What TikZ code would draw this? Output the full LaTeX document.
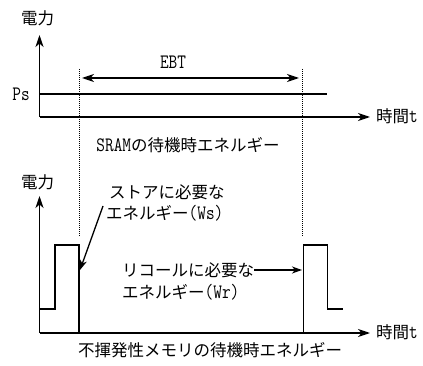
\documentclass[tikz,border=0pt]{standalone}
\usepackage{fontspec}
\setmainfont{Noto Sans CJK JP}
\setmonofont{Latin Modern Mono}[FakeStretch=0.82]
\newcommand\LatTxt[1]{{\fontsize{20.5}{23}\selectfont\ttfamily #1}}
\usetikzlibrary{arrows.meta}
\begin{document}
\begin{tikzpicture}[x=1pt,y=-1pt,
  lbl/.style={inner sep=0pt,font=\fontsize{16.5}{19}\selectfont},
  axis/.style={line width=1.4pt,-{Stealth[length=12pt,width=8pt,inset=3.5pt]}},
  dblarrow/.style={line width=1.3pt,{Stealth[length=12pt,width=8pt,inset=3.5pt]}-{Stealth[length=12pt,width=8pt,inset=3.5pt]}},
  ptr/.style={line width=1.3pt,-{Stealth[length=10pt,width=7pt,inset=3pt]}},
  sig/.style={line width=1.4pt},
  dotline/.style={line width=0.8pt,dash pattern=on 1pt off 1pt}]
\useasboundingbox (0,0) rectangle (423,366);
% top plot
\coordinate (o1) at (39.5,117);
\coordinate (y1) at (39.5,35);
\coordinate (x1) at (370,117);
\draw[axis] (o1) -- (y1);
\draw[axis] (o1) -- (x1);
\node[lbl] (p1) at (37.5,18) {電力};
\node[lbl,anchor=west] (t1) at (376,116) {時間\LatTxt{t}};
\node[lbl] (ps) at (21,94) {\LatTxt{Ps}};
\coordinate (psa) at (39.5,94);
\coordinate (psb) at (327,94);
\draw[sig] (psa) -- (psb);
\coordinate (e1) at (82,78);
\coordinate (e2) at (299,78);
\draw[dblarrow] (e1) -- (e2);
\node[lbl] (ebt) at (173,62) {\LatTxt{EBT}};
\node[lbl] (sram) at (188,145) {\LatTxt{SRAM}の待機時エネルギー};
% dotted markers
\coordinate (da1) at (79,69);
\coordinate (db1) at (79,236);
\coordinate (da2) at (302.7,69);
\coordinate (db2) at (302.7,236);
\draw[dotline] (da1) -- (db1);
\draw[dotline] (da2) -- (db2);
% bottom plot
\coordinate (o2) at (39.5,333);
\coordinate (y2) at (39.5,196);
\coordinate (x2) at (370,333);
\draw[axis] (o2) -- (y2);
\draw[axis] (o2) -- (x2);
\node[lbl] (p2) at (37.5,182) {電力};
\node[lbl,anchor=west] (t2) at (376,332) {時間\LatTxt{t}};
\coordinate (s0) at (39.5,309);
\coordinate (s1) at (55,309);
\coordinate (s2) at (55,245);
\coordinate (s3) at (79,245);
\coordinate (s4) at (79,333);
\draw[sig] (s0) -- (s1) -- (s2) -- (s3) -- (s4);
\coordinate (r0) at (303.5,333);
\coordinate (r1) at (303.5,245);
\coordinate (r2) at (327.5,245);
\coordinate (r3) at (327.5,309);
\coordinate (r4) at (343,309);
\draw[sig] (r0) -- (r1) -- (r2) -- (r3) -- (r4);
% labels
\node[lbl,anchor=west] (ws1) at (109,192) {ストアに必要な};
\node[lbl,anchor=west] (ws2) at (106,213) {エネルギー\LatTxt{(Ws)}};
\coordinate (wsa) at (103,206);
\coordinate (wsb) at (80,270);
\draw[ptr] (wsa) -- (wsb);
\node[lbl,anchor=west] (wr1) at (122,270) {リコールに必要な};
\node[lbl,anchor=west] (wr2) at (122,292) {エネルギー\LatTxt{(Wr)}};
\coordinate (wrb) at (302,270);
\draw[ptr] (wr1.east) -- (wrb);
\node[lbl] (cap) at (210,350) {不揮発性メモリの待機時エネルギー};
\end{tikzpicture}
\end{document}
